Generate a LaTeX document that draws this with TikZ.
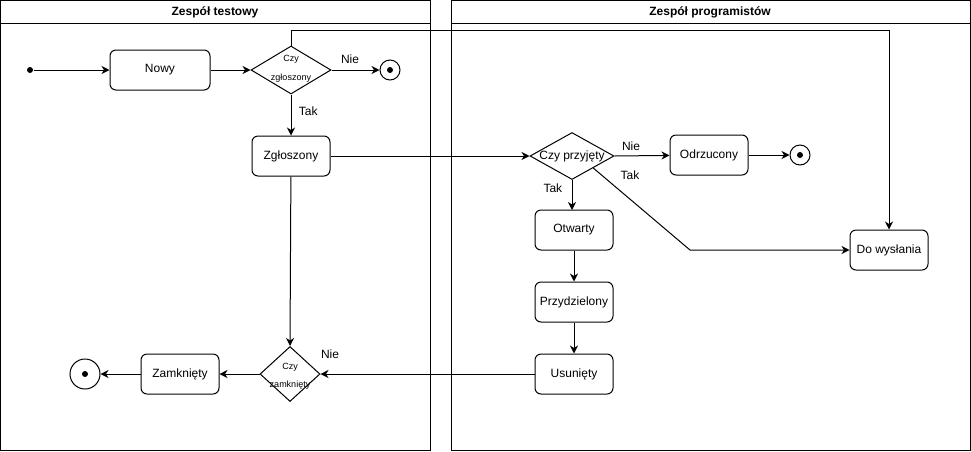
\documentclass[tikz,border=0pt]{standalone}
\usepackage{fontspec}
\setmainfont{Liberation Sans}
\usetikzlibrary{shapes.geometric,arrows.meta,calc}

\begin{document}
\begin{tikzpicture}[x=1pt,y=-1pt,line width=1pt,
  every node/.style={font=\fontsize{12}{14}\selectfont},
  state/.style={draw,rounded corners=6pt,minimum width=78pt,minimum height=40pt,inner sep=0pt},
  decision/.style={draw,diamond,inner sep=0pt},
  small/.style={font=\fontsize{9}{10}\selectfont,inner sep=0pt},
  title/.style={font=\bfseries\fontsize{12}{14}\selectfont},
  endstate/.style={draw,circle,minimum size=20pt,inner sep=0pt},
  dot/.style={circle,fill,minimum size=6pt,inner sep=0pt},
  flow/.style={-{Stealth[length=8pt,width=8pt,inset=2.5pt]}},
]
\useasboundingbox (0,0) rectangle (971,451);

% swimlanes
\draw (0.5,0.5) rectangle (430,450.5);
\draw (0.5,23) -- (430,23);
\node[title] (laneA) at (215,12) {Zespół testowy};
\draw (451,0.5) rectangle (970.5,450.5);
\draw (451,23) -- (970.5,23);
\node[title] (laneB) at (710,12) {Zespół programistów};

% test team
\node[dot] (start) at (30,70) {};
\node[state,minimum width=100pt] (nowy) at (160,70) {Nowy};
\node[decision,minimum width=80pt,minimum height=48pt] (zgl) at (291,70) {};
\node[small] (zglt1) at (291,59) {Czy};
\node[small] (zglt2) at (291,78) {zgłoszony};
\node[endstate] (end1) at (390,70) {};
\node[dot] (end1d) at (end1.center) {};
\node[state] (zgloszony) at (291,156) {Zgłoszony};
\node[decision,minimum width=60pt,minimum height=55pt] (zam) at (290,374) {};
\node[small] (zamt1) at (290,367) {Czy};
\node[small] (zamt2) at (290,385) {zamknięty};
\node[state] (zamkniety) at (180,374) {Zamknięty};
\node[endstate,minimum size=30pt] (end3) at (85,374) {};
\node[dot] (end3d) at (end3.center) {};

% developer team
\node[decision,minimum width=84pt,minimum height=47pt] (prz) at (572,156) {};
\node (przt) at (572,156) {Czy przyjęty};
\node[state] (odrz) at (709,155) {Odrzucony};
\node[endstate] (end2) at (800,155) {};
\node[dot] (end2d) at (end2.center) {};
\node[state] (otw) at (574,230) {Otwarty};
\node[state] (przyd) at (574,302) {Przydzielony};
\node[state] (usun) at (574,374) {Usunięty};
\node[state] (dows) at (889,250) {Do wysłania};

% connectors
\draw[flow] (start) -- (nowy);
\draw[flow] (nowy) -- (zgl);
\draw[flow] (zgl) -- (end1);
\node (nie1) at (350,59) {Nie};
\draw[flow] (zgl) -- node[right=4pt,pos=0.4] (tak1) {Tak} (zgloszony);
\draw[flow] (zgl.north) |- (889,30) -- (dows.north);
\draw[flow] (zgloszony) -- (prz.west);
\draw[flow] (prz.east) -- node[above=1pt,pos=0.3] (nie2) {Nie} (odrz);
\draw[flow] (odrz) -- (end2);
\draw[flow] (572,179.5) -- node[left=6pt,pos=0.3] (tak2) {Tak} (572,210);
\coordinate (bend) at (690,250);
\draw[flow] ($(prz.east)!0.5!(prz.south)$) -- (bend) -- (dows.west);
\node (tak3) at (630,175) {Tak};
\draw[flow] (otw) -- (przyd);
\draw[flow] (przyd) -- (usun);
\draw[flow] (usun) -- (zam.east);
\node (nie3) at (330,354) {Nie};
\draw[flow] (zgloszony) -- (zam.north);
\draw[flow] (zam.west) -- (zamkniety);
\draw[flow] (zamkniety) -- (end3);
\end{tikzpicture}
\end{document}
